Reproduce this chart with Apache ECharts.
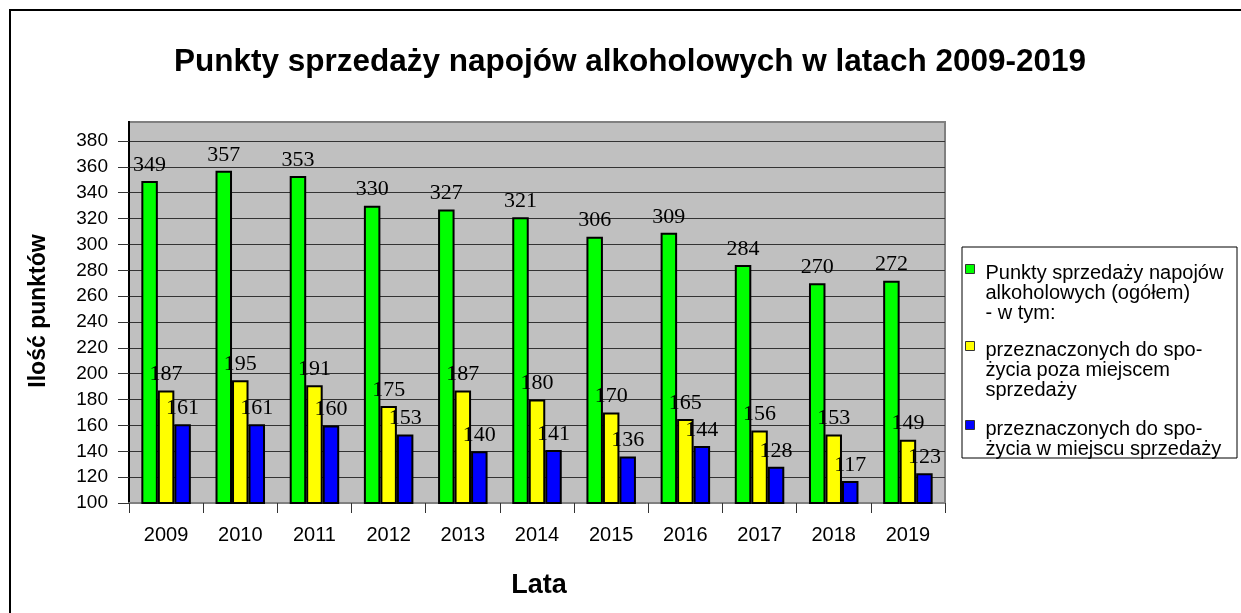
<!DOCTYPE html>
<html>
<head>
<meta charset="utf-8">
<script src="https://cdn.jsdelivr.net/npm/echarts@6/dist/echarts.min.js"></script>
<style>
html,body{margin:0;padding:0;background:#fff;}
#chart{width:1241px;height:613px;}
</style>
</head>
<body>
<div id="chart"></div>
<script>
const years = ['2009','2010','2011','2012','2013','2014','2015','2016','2017','2018','2019'];
const total = [349,357,353,330,327,321,306,309,284,270,272];
const offPremise = [187,195,191,175,187,180,170,165,156,153,149];
const onPremise = [161,161,160,153,140,141,136,144,128,117,123];
const seriesNames = ['Ogółem', 'Poza miejscem', 'W miejscu'];
const legendTexts = [
  'Punkty sprzedaży napojów\nalkoholowych (ogółem)\n- w tym:',
  'przeznaczonych do spo-\nżycia poza miejscem\nsprzedaży',
  'przeznaczonych do spo-\nżycia w miejscu sprzedaży'
];
const titleText = 'Punkty sprzedaży napojów alkoholowych w latach 2009-2019';
const yAxisTitle = 'Ilość punktów';
const xAxisTitle = 'Lata';

const SANS = "'Liberation Sans', Arial, sans-serif";
const SERIF = "'Liberation Serif', 'Times New Roman', serif";

const chart = echarts.init(document.getElementById('chart'), null, {renderer:'canvas'});

function mkLegend(i, top, h){
  return {
    orient:'vertical', left:965, top:top, padding:0,
    itemWidth:9, itemHeight:h,
    icon:'path://M0,0L9,0L9,9L0,9Z M9,' + h,
    itemStyle:{borderColor:'#333', borderWidth:1},
    data:[seriesNames[i]],
    formatter:function(){ return legendTexts[i]; },
    textStyle:{fontFamily:SANS, fontSize:20, lineHeight:20, color:'#000', padding:[0,0,0,6]},
    selectedMode:false
  };
}

const labelCfg = {show:true, position:'top', distance:5, fontFamily:SERIF, fontSize:22, color:'#000'};

chart.setOption({
  animation:false,
  backgroundColor:'#fff',
  graphic:[
    {type:'rect', z:-10, shape:{x:10, y:10, width:1300, height:700}, style:{fill:'#fff', stroke:'#000', lineWidth:2}},
    {type:'rect', z:-9, shape:{x:129, y:122, width:816, height:381}, style:{fill:'#c0c0c0', stroke:'#808080', lineWidth:2}},
    {type:'line', z:-8, shape:{x1:129, y1:121, x2:129, y2:141}, style:{stroke:'#000', lineWidth:2}},
    {type:'rect', z:-9, shape:{x:962, y:247, width:275, height:211}, style:{fill:'#fff', stroke:'#000', lineWidth:1}},
    {type:'text', x:630, y:62, style:{text:titleText, font:"bold 31.5px " + SANS, fill:'#000', textAlign:'center', textVerticalAlign:'middle'}},
    {type:'text', x:39, y:311, rotation:Math.PI/2, style:{text:yAxisTitle, font:"bold 23px " + SANS, fill:'#000', textAlign:'center', textVerticalAlign:'middle'}},
    {type:'text', x:539, y:586, style:{text:xAxisTitle, font:"bold 27px " + SANS, fill:'#000', textAlign:'center', textVerticalAlign:'middle'}}
  ],
  legend:[ mkLegend(0,263,57), mkLegend(1,340,57), mkLegend(2,419,37) ],
  grid:{left:129, right:296, top:141, bottom:110},
  xAxis:{
    type:'category', data:years,
    axisLine:{lineStyle:{color:'#808080', width:2}},
    axisTick:{show:true, length:10, lineStyle:{color:'#333', width:1}},
    axisLabel:{fontFamily:SANS, fontSize:20, color:'#000', margin:22}
  },
  yAxis:{
    type:'value', min:100, max:380, interval:20,
    axisLine:{show:true, lineStyle:{color:'#000', width:2}},
    axisTick:{show:true, length:11, lineStyle:{color:'#333', width:1}},
    axisLabel:{fontFamily:SANS, fontSize:19, color:'#000', margin:21},
    splitLine:{show:true, lineStyle:{color:'#333', width:1.2}}
  },
  series:[
    {name:seriesNames[0], type:'bar', data:total, barWidth:16.5, barGap:'0%',
     itemStyle:{color:'#00ff00', borderColor:'#000', borderWidth:2}, label:labelCfg},
    {name:seriesNames[1], type:'bar', data:offPremise, barWidth:16.5, barGap:'0%',
     itemStyle:{color:'#ffff00', borderColor:'#000', borderWidth:2}, label:labelCfg},
    {name:seriesNames[2], type:'bar', data:onPremise, barWidth:16.5, barGap:'0%',
     itemStyle:{color:'#0000ff', borderColor:'#000', borderWidth:2}, label:labelCfg}
  ]
});
</script>
</body>
</html>
